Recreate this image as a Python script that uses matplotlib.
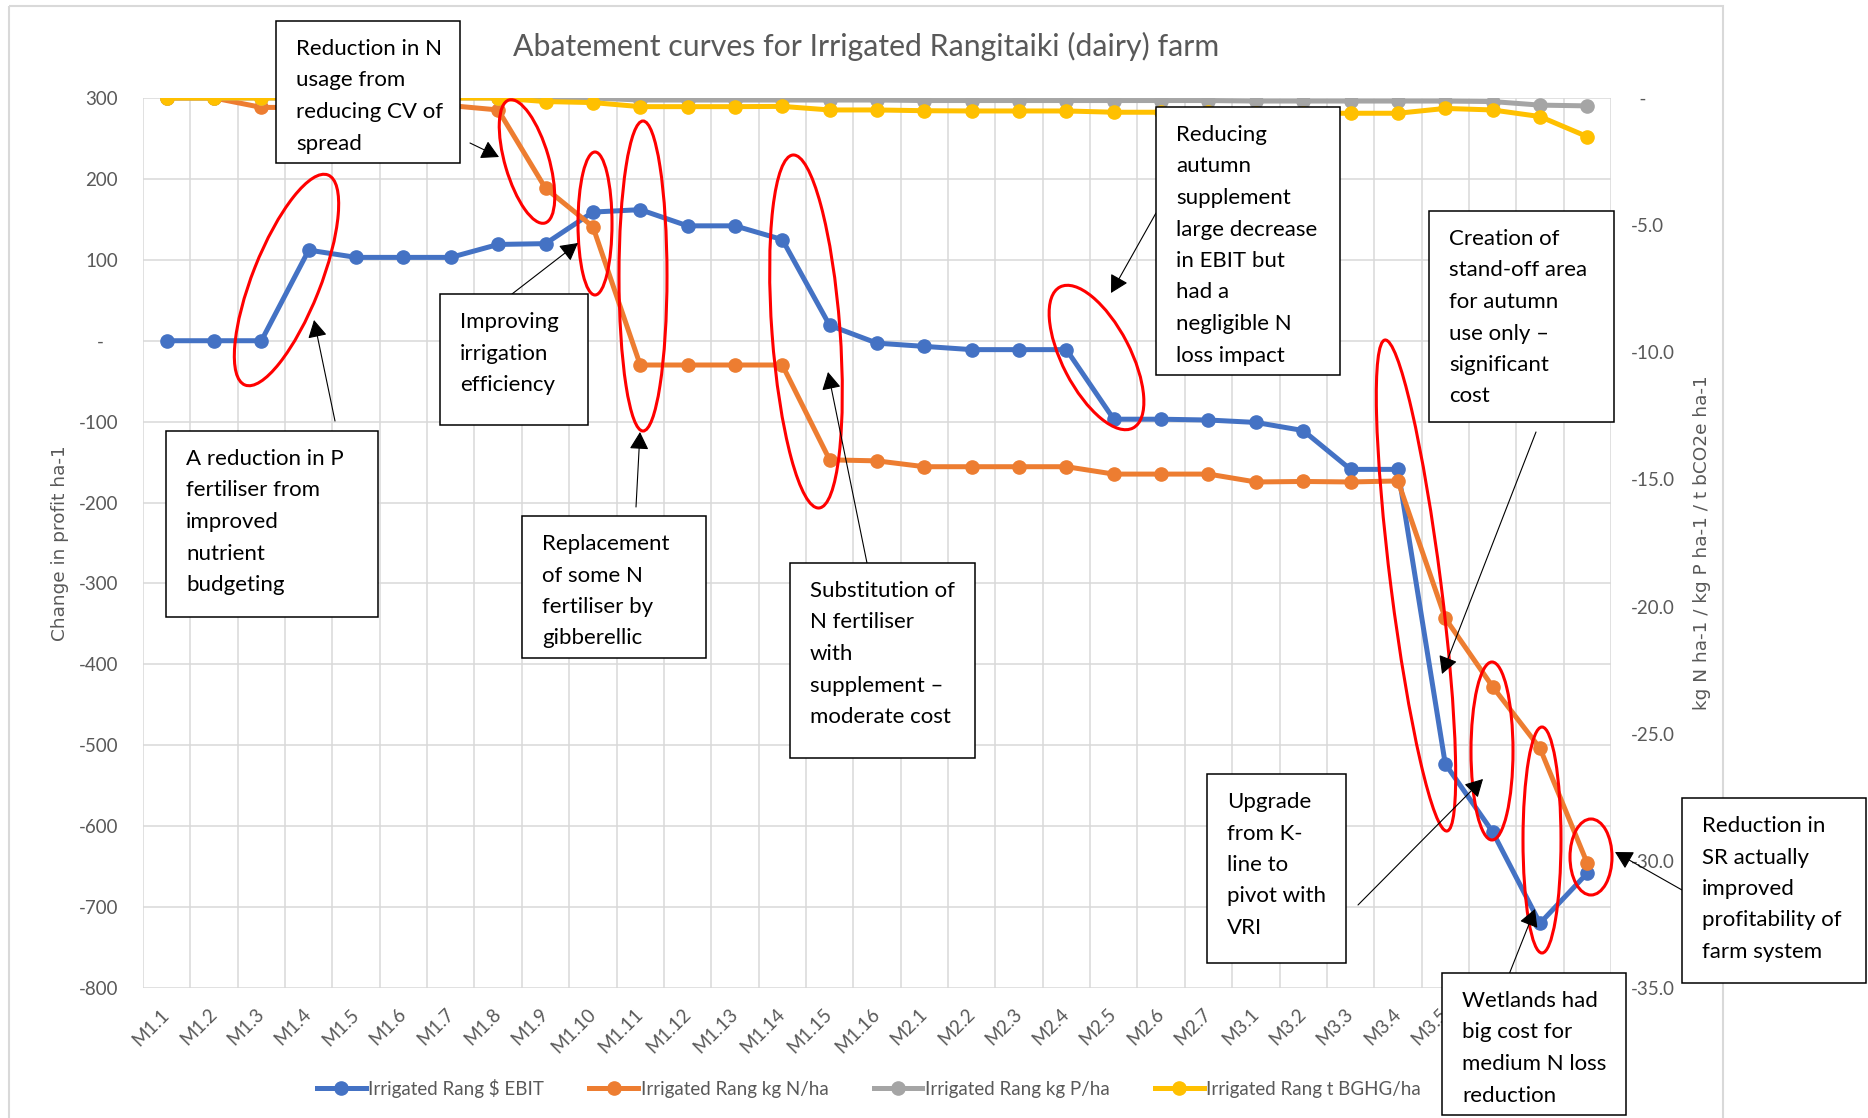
import numpy as np
import matplotlib.pyplot as plt
from matplotlib.patches import Ellipse, Rectangle, FancyArrowPatch
from matplotlib.lines import Line2D
from matplotlib.ticker import FuncFormatter
import matplotlib.transforms as mtransforms

W, H = 1868, 1118
plt.rcParams['font.family'] = ['Lato', 'DejaVu Sans']

# ---- data ----
measures = ['M1.1', 'M1.2', 'M1.3', 'M1.4', 'M1.5', 'M1.6', 'M1.7', 'M1.8',
            'M1.9', 'M1.10', 'M1.11', 'M1.12', 'M1.13', 'M1.14', 'M1.15', 'M1.16',
            'M2.1', 'M2.2', 'M2.3', 'M2.4', 'M2.5', 'M2.6', 'M2.7',
            'M3.1', 'M3.2', 'M3.3', 'M3.4', 'M3.5', 'M3.6', 'M3.7', 'M3.8']

ebit = [0, 0, 0, 112, 103, 103, 103, 119, 120, 159, 162, 142, 142, 125, 19, -3,
        -7, -11, -11, -11, -97, -97, -98,
        -101, -111, -159, -159, -523, -607, -720, -658]

n_loss = [0, 0, -0.37, -0.37, -0.37, -0.37, -0.3, -0.47, -3.55, -5.06, -10.5, -10.5,
          -10.5, -10.5, -14.23, -14.27,
          -14.5, -14.5, -14.5, -14.5, -14.79, -14.79, -14.79,
          -15.1, -15.08, -15.1, -15.06, -20.46, -23.15, -25.57, -30.1]

p_loss = [0, 0, 0, 0, 0, 0, 0, 0, 0, 0, -0.08, -0.08, -0.08, -0.08, -0.08, -0.08,
          -0.1, -0.1, -0.1, -0.1, -0.1, -0.1, -0.1,
          -0.12, -0.12, -0.12, -0.12, -0.12, -0.14, -0.28, -0.31]

ghg = [0, 0, 0, 0, 0, 0, 0, 0, -0.14, -0.18, -0.34, -0.34, -0.34, -0.33, -0.47, -0.47,
       -0.5, -0.51, -0.51, -0.51, -0.56, -0.56, -0.56,
       -0.58, -0.6, -0.6, -0.6, -0.41, -0.47, -0.73, -1.52]

series_names = ['Irrigated Rang $ EBIT', 'Irrigated Rang kg N/ha',
                'Irrigated Rang kg P/ha', 'Irrigated Rang t BGHG/ha']

title = 'Abatement curves for Irrigated Rangitaiki (dairy) farm'
left_label = 'Change in profit ha-1'
right_label = 'kg N ha-1 / kg P ha-1 / t bCO2e ha-1'

# callout boxes: left, top, right, bottom (pixels), lines
notes = [
    (276, 21, 460, 163, ['Reduction in N', 'usage from', 'reducing CV of', 'spread']),
    (166, 431, 378, 617, ['A reduction in P', 'fertiliser from', 'improved', 'nutrient', 'budgeting']),
    (440, 294, 588, 425, ['Improving', 'irrigation', 'efficiency']),
    (522, 516, 706, 658, ['Replacement', 'of some N', 'fertiliser by', 'gibberellic']),
    (790, 563, 975, 758, ['Substitution of', 'N fertiliser', 'with', 'supplement \u2013', 'moderate cost']),
    (1156, 107, 1340, 375, ['Reducing', 'autumn', 'supplement', 'large decrease', 'in EBIT but',
                            'had a', 'negligible N', 'loss impact']),
    (1429, 211, 1614, 422, ['Creation of', 'stand-off area', 'for autumn', 'use only \u2013',
                            'significant', 'cost']),
    (1207, 774, 1346, 963, ['Upgrade', 'from K-', 'line to', 'pivot with', 'VRI']),
    (1442, 973, 1626, 1115, ['Wetlands had', 'big cost for', 'medium N loss', 'reduction']),
    (1682, 798, 1866, 983, ['Reduction in', 'SR actually', 'improved', 'profitability of', 'farm system']),
]

# arrows: tail x, y -> head x, y (pixels)
arrows = [
    (470, 143, 499, 157), (512, 294, 578, 243), (335, 421, 314, 320),
    (636, 507, 640, 432), (867, 563, 828, 372), (1156, 213, 1111, 293),
    (1536, 432, 1442, 674), (1358, 905, 1483, 779), (1508, 977, 1535, 909),
    (1682, 890, 1615, 852),
]

# red rings: tip1 x, y, tip2 x, y, minor width (pixels)
rings = [
    (328, 175, 245, 385, 68), (509, 100, 545, 223, 44), (595, 152, 595, 295, 34),
    (643, 121, 643, 431, 48), (793, 155, 819, 508, 68), (1060, 287, 1133, 428, 68),
    (1385, 340, 1447, 831, 50), (1492, 662, 1492, 840, 42), (1542, 727, 1542, 953, 38),
    (1591, 819, 1591, 895, 42),
]

BLUE, ORANGE, GREY, YELLOW = '#4472C4', '#ED7D31', '#A5A5A5', '#FFC000'
TXT = '#595959'
GRID = '#D9D9D9'

fig = plt.figure(figsize=(W / 100, H / 100), dpi=100)
ax = fig.add_axes([143 / W, 1 - 988 / H, (1611 - 143) / W, (988 - 98) / H])
ax2 = ax.twinx()

x = np.arange(len(measures))
style = dict(lw=3.6, marker='o', ms=9.5, solid_joinstyle='round')
ax.plot(x, ebit, color=BLUE, **style)
ax2.plot(x, n_loss, color=ORANGE, **style)
ax2.plot(x, p_loss, color=GREY, **style)
ax2.plot(x, ghg, color=YELLOW, **style)

ax.set_xlim(-0.5, len(measures) - 0.5)
ax.set_ylim(-800, 300)
ax2.set_ylim(-35, 0)
ax.set_yticks(np.arange(-800, 301, 100))
ax2.set_yticks(np.arange(-35, 0.1, 5))
ax.set_xticks(x)
ax.set_xticks(np.arange(-0.5, len(measures), 1), minor=True)
ax.grid(axis='y', which='major', color=GRID, lw=1.1)
ax.grid(axis='x', which='minor', color=GRID, lw=1.1)
ax.set_axisbelow(True)

ax.yaxis.set_major_formatter(FuncFormatter(lambda v, p: '-   ' if v == 0 else f'{v:.0f}'))
ax2.yaxis.set_major_formatter(FuncFormatter(lambda v, p: '  -' if v == 0 else f'{v:.1f}'))
ax.tick_params(axis='both', which='both', length=0, labelsize=13.5, labelcolor=TXT)
ax.tick_params(axis='y', pad=18)
ax.tick_params(axis='x', pad=17)
ax2.tick_params(axis='y', length=0, pad=14, labelsize=13.5, labelcolor=TXT)
ax.set_xticklabels(measures, rotation=45, ha='right', va='center', rotation_mode='anchor')
for s in list(ax.spines.values()) + list(ax2.spines.values()):
    s.set_visible(False)

fig.text(60 / W, 1 - 543 / H, left_label, rotation=90, ha='center', va='center',
         family='DejaVu Sans', fontsize=13.3, color=TXT)
fig.text(1702 / W, 1 - 543 / H, right_label, rotation=90, ha='center', va='center',
         family='DejaVu Sans', fontsize=13.3, color=TXT)

handles = [Line2D([], [], color=c, **style) for c in (BLUE, ORANGE, GREY, YELLOW)]
fig.legend(handles, series_names, loc='center', bbox_to_anchor=(869 / W, 1 - 1088 / H),
           ncol=4, frameon=False, fontsize=13.5, labelcolor=TXT, handlelength=2.6,
           handletextpad=0.15, columnspacing=2.4, borderaxespad=0)

# overlay in pixel coordinates for title, callouts, arrows and rings
ov = fig.add_axes([0, 0, 1, 1], zorder=5)
ov.set_xlim(0, W)
ov.set_ylim(H, 0)
ov.axis('off')

ov.add_patch(Rectangle((9, 6), 1714, 1130, fill=False, ec=GRID, lw=1.5, zorder=1))
ov.text(866, 56, title, ha='center', va='baseline', fontsize=21.8, color=TXT)

for x1, y1, x2, y2, mnr in rings:
    cx, cy = (x1 + x2) / 2, (y1 + y2) / 2
    ln = np.hypot(x2 - x1, y2 - y1)
    ang = np.degrees(np.arctan2(y2 - y1, x2 - x1))
    ov.add_patch(Ellipse((cx, cy), ln, mnr, angle=ang, fill=False, ec='#FF0000', lw=2.2, zorder=2))

for x1, y1, x2, y2 in arrows:
    ov.add_patch(FancyArrowPatch((x1, y1), (x2, y2), arrowstyle='-|>,head_length=0.4,head_width=0.22',
                                 mutation_scale=27, lw=0.8, color='black',
                                 shrinkA=0, shrinkB=0, zorder=3))

for l, t, r, b, lines in notes:
    ov.add_patch(Rectangle((l, t), r - l, b - t, fc='white', ec='black', lw=1.1, zorder=4))
    for i, line in enumerate(lines):
        ov.text(l + 20, t + 34 + i * 31.5, line, ha='left', va='baseline',
                fontsize=16, color='black', zorder=5)

fig.savefig('out.png', dpi=100)
